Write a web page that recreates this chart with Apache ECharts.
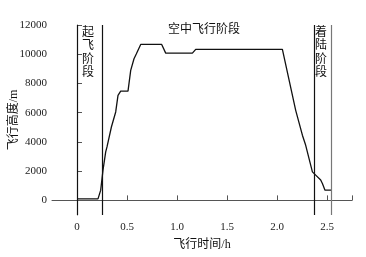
<!DOCTYPE html>
<html><head><meta charset="utf-8">
<script src="https://cdn.jsdelivr.net/npm/echarts@6/dist/echarts.min.js"></script>
<style>html,body{margin:0;padding:0;background:#fff}#c{width:366px;height:257px}</style>
</head><body><div id="c"></div>
<script>
var times = [0, 0.21, 0.237, 0.26, 0.287, 0.30, 0.344, 0.387, 0.41, 0.437, 0.51, 0.537, 0.57, 0.594, 0.637, 0.847, 0.887, 1.154, 1.187, 2.054, 2.187, 2.254, 2.287, 2.354, 2.387, 2.437, 2.454, 2.48, 2.544];
var altitudes = [100, 100, 700, 2070, 3320, 3660, 5020, 6050, 7190, 7480, 7480, 8900, 9690, 10030, 10670, 10670, 10075, 10075, 10330, 10330, 6160, 4460, 3770, 1950, 1730, 1390, 1160, 700, 700];
var phaseBounds = [0, 0.25, 2.37, 2.54];
var xTicks = [0, 0.5, 1.0, 1.5, 2.0, 2.5, 2.75];
var xLabels = [0, 0.5, 1.0, 1.5, 2.0, 2.5];
var yTicks = [0, 2000, 4000, 6000, 8000, 10000, 12000];
var phaseNames = ['起飞阶段', '空中飞行阶段', '着陆阶段'];

var FONT = "'Liberation Serif', 'Noto Sans CJK SC', serif";
var chart = echarts.init(document.getElementById('c'), null, {renderer: 'canvas'});
var data = times.map(function (t, i) { return [t, altitudes[i]]; });
function vert(s) { return s.split('').join('\n'); }
chart.setOption({
  animation: false,
  grid: {left: 52, right: 14, top: 25, bottom: 42, containLabel: false, outerBoundsMode: 'none'},
  xAxis: {
    type: 'value', min: -0.25, max: 2.75,
    name: '飞行时间/h', nameLocation: 'middle', nameGap: 24, nameMoveOverlap: false,
    nameTextStyle: {fontFamily: FONT, fontSize: 12, color: '#111'},
    axisLine: {lineStyle: {color: '#555', width: 1}},
    axisTick: {inside: true, length: 5, customValues: xTicks, lineStyle: {color: '#555'}},
    axisLabel: {customValues: xLabels, fontFamily: FONT, fontSize: 11, color: '#222', margin: 7,
      formatter: function (v) { return v === 0 ? '0' : v.toFixed(1); }},
    splitLine: {show: false}
  },
  yAxis: {
    type: 'value', min: -1000, max: 12000,
    name: '飞行高度/m', nameLocation: 'middle', nameGap: 32, nameRotate: 90, nameMoveOverlap: false,
    nameTextStyle: {fontFamily: FONT, fontSize: 12, color: '#111'},
    axisLine: {show: true, lineStyle: {color: '#555', width: 1}},
    axisTick: {show: true, inside: true, length: 5, customValues: yTicks, lineStyle: {color: '#555'}},
    axisLabel: {customValues: yTicks, fontFamily: FONT, fontSize: 11, color: '#222', margin: 5,
      formatter: function (v) { return String(v); }},
    splitLine: {show: false}
  },
  graphic: [
    {type: 'text', left: 82, top: 26, style: {text: vert(phaseNames[0]), font: '12px ' + FONT, fill: '#111', lineHeight: 13.5}},
    {type: 'text', left: 168, top: 24, style: {text: phaseNames[1], font: '12px ' + FONT, fill: '#111'}},
    {type: 'text', left: 315, top: 26, style: {text: vert(phaseNames[2]), font: '12px ' + FONT, fill: '#111', lineHeight: 13.5}}
  ],
  series: [{
    type: 'line', data: data, symbol: 'none',
    lineStyle: {color: '#111', width: 1.3},
    markLine: {
      silent: true, symbol: 'none', label: {show: false},
      data: phaseBounds.map(function (b, i) {
        return {xAxis: b, lineStyle: {color: i === 3 ? '#777' : '#111', width: 1.2, type: 'solid'}};
      })
    }
  }]
});
</script></body></html>
